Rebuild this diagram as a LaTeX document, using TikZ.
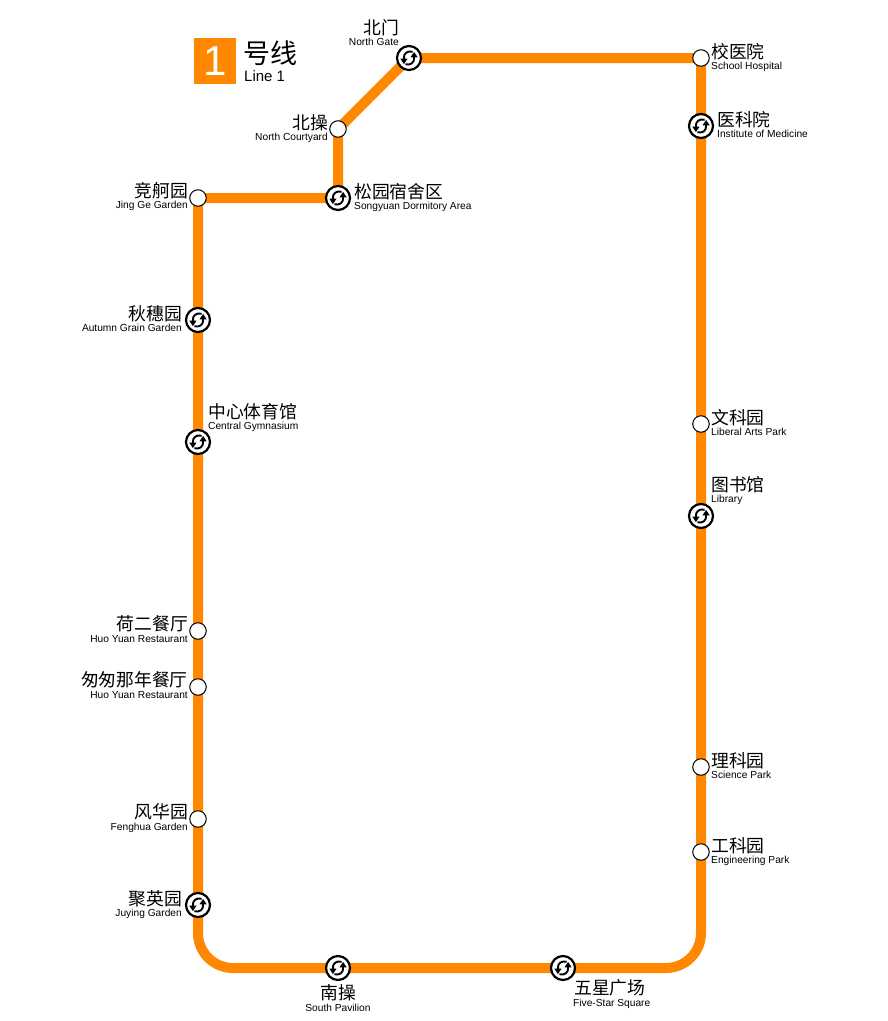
\documentclass[tikz,border=0pt]{standalone}
\usepackage{fontspec}
\setmainfont{Liberation Sans}
\newfontfamily\cjk{Noto Sans CJK SC}
\usetikzlibrary{arrows.meta, backgrounds}
\definecolor{lineorange}{RGB}{255,136,0}
\newcommand{\exchangearrows}{%
  \begin{scope}[shift=(path picture bounding box.center)]
    \foreach \s in {1,-1} {
      \fill[black] (\s*-8.7,\s*0.7) -- (\s*-1.5,\s*0.7) -- (\s*-5.1,\s*6) -- cycle;
      \draw[line width=1.9pt] (\s*3.6,\s*-6.2) .. controls (\s*-1,\s*-7.6) and (\s*-5.9,\s*-5) .. (\s*-5.1,\s*1);
    }
  \end{scope}
}
\begin{document}
\begin{tikzpicture}[x=1pt, y=-1pt,
  station/.style={circle, draw, fill=white, line width=1pt, inner sep=0pt, minimum size=16.5pt},
  exchange/.style={circle, draw, fill=white, line width=2.2pt, inner sep=0pt, minimum size=24pt, path picture={\exchangearrows}},
  metroline/.style={lineorange, line width=10pt},
  cnright/.style={font=\cjk\fontsize{17.8}{18}\selectfont, inner sep=0pt, anchor=base east},
  enright/.style={font=\fontsize{10.2}{10}\selectfont, inner sep=0pt, anchor=base east},
  cnleft/.style={font=\cjk\fontsize{17.8}{18}\selectfont, inner sep=0pt, anchor=base west},
  enleft/.style={font=\fontsize{10.2}{10}\selectfont, inner sep=0pt, anchor=base west},
]
\useasboundingbox (0,0) rectangle (888,1021);

% Line title
\node[fill=lineorange, text=white, font=\fontsize{42}{42}\selectfont, minimum width=42pt, minimum height=46pt, inner sep=0pt] (badge) at (215,61) {1};
\node[font=\cjk\fontsize{27}{27}\selectfont, inner sep=0pt, anchor=base west] (titlecn) at (243,63) {号线};
\node[font=\fontsize{15}{15}\selectfont, inner sep=0pt, anchor=base west] (titleen) at (244,81) {Line 1};

% Stations, top and right side
\node[station] (jingge) at (198,198) {};
\node[exchange] (songyuan) at (338,198) {};
\node[station] (beicao) at (338,129) {};
\node[exchange] (beimen) at (409,58) {};
\node[station] (xiaoyiyuan) at (701,58) {};
\node[exchange] (yikeyuan) at (701,126) {};
\node[station] (wenke) at (701,424) {};
\node[exchange] (tushuguan) at (701,516) {};
\node[station] (like) at (701,767) {};
\node[station] (gongke) at (701,852) {};

% Stations, bottom and left side
\node[exchange] (wuxing) at (563,968) {};
\node[exchange] (nancao) at (338,968) {};
\node[exchange] (juying) at (198,905) {};
\node[station] (fenghua) at (198,819) {};
\node[station] (congcong) at (198,687) {};
\node[station] (heer) at (198,631) {};
\node[exchange] (zhongxin) at (198,442) {};
\node[exchange] (qiusui) at (198,320) {};

% Corners of the line
\coordinate (cornerbr) at (701,968);
\coordinate (cornerbl) at (198,968);

% Line
\begin{scope}[on background layer]
  \draw[metroline, line join=miter] (juying.center) -- (qiusui.center) -- (jingge.center) -- (songyuan.center) -- (beicao.center) -- (beimen.center) -- (xiaoyiyuan.center) -- (gongke.center);
  \draw[metroline, rounded corners=35pt] (gongke.center) -- (cornerbr) -- (cornerbl) -- (juying.center);
\end{scope}

% Labels, top
\node[cnright] (beimencn) at (399,34) {北门};
\node[enright] (beimenen) at (399,45) {North Gate};
\node[cnright] (beicaocn) at (328,129) {北操};
\node[enright] (beicaoen) at (328,140) {North Courtyard};
\node[cnleft] (songyuancn) at (354,198) {松园宿舍区};
\node[enleft] (songyuanen) at (354,209) {Songyuan Dormitory Area};

% Labels, left side
\node[cnright] (jinggecn) at (188,197) {竞舸园};
\node[enright] (jinggeen) at (188,208) {Jing Ge Garden};
\node[cnright] (qiusuicn) at (182,320) {秋穗园};
\node[enright] (qiusuien) at (182,331) {Autumn Grain Garden};
\node[cnleft] (zhongxincn) at (208,418) {中心体育馆};
\node[enleft] (zhongxinen) at (208,429) {Central Gymnasium};
\node[cnright] (heercn) at (188,630) {荷二餐厅};
\node[enright] (heeren) at (188,642) {Huo Yuan Restaurant};
\node[cnright] (congcongcn) at (188,686) {匆匆那年餐厅};
\node[enright] (congcongen) at (188,698) {Huo Yuan Restaurant};
\node[cnright] (fenghuacn) at (188,818) {风华园};
\node[enright] (fenghuaen) at (188,830) {Fenghua Garden};
\node[cnright] (juyingcn) at (182,905) {聚英园};
\node[enright] (juyingen) at (182,916) {Juying Garden};

% Labels, bottom
\node[cnleft, anchor=base] (nancaocn) at (338,999) {南操};
\node[enleft, anchor=base] (nancaoen) at (338,1011) {South Pavilion};
\node[cnleft] (wuxingcn) at (574,994) {五星广场};
\node[enleft] (wuxingen) at (573,1006) {Five-Star Square};

% Labels, right side
\node[cnleft] (xiaoyiyuancn) at (711,58) {校医院};
\node[enleft] (xiaoyiyuanen) at (711,69) {School Hospital};
\node[cnleft] (yikeyuancn) at (717,126) {医科院};
\node[enleft] (yikeyuanen) at (717,137) {Institute of Medicine};
\node[cnleft] (wenkecn) at (711,424) {文科园};
\node[enleft] (wenkeen) at (711,435) {Liberal Arts Park};
\node[cnleft] (tushuguancn) at (711,491) {图书馆};
\node[enleft] (tushuguanen) at (711,502) {Library};
\node[cnleft] (likecn) at (711,767) {理科园};
\node[enleft] (likeen) at (711,778) {Science Park};
\node[cnleft] (gongkecn) at (711,852) {工科园};
\node[enleft] (gongkeen) at (711,863) {Engineering Park};
\end{tikzpicture}
\end{document}
